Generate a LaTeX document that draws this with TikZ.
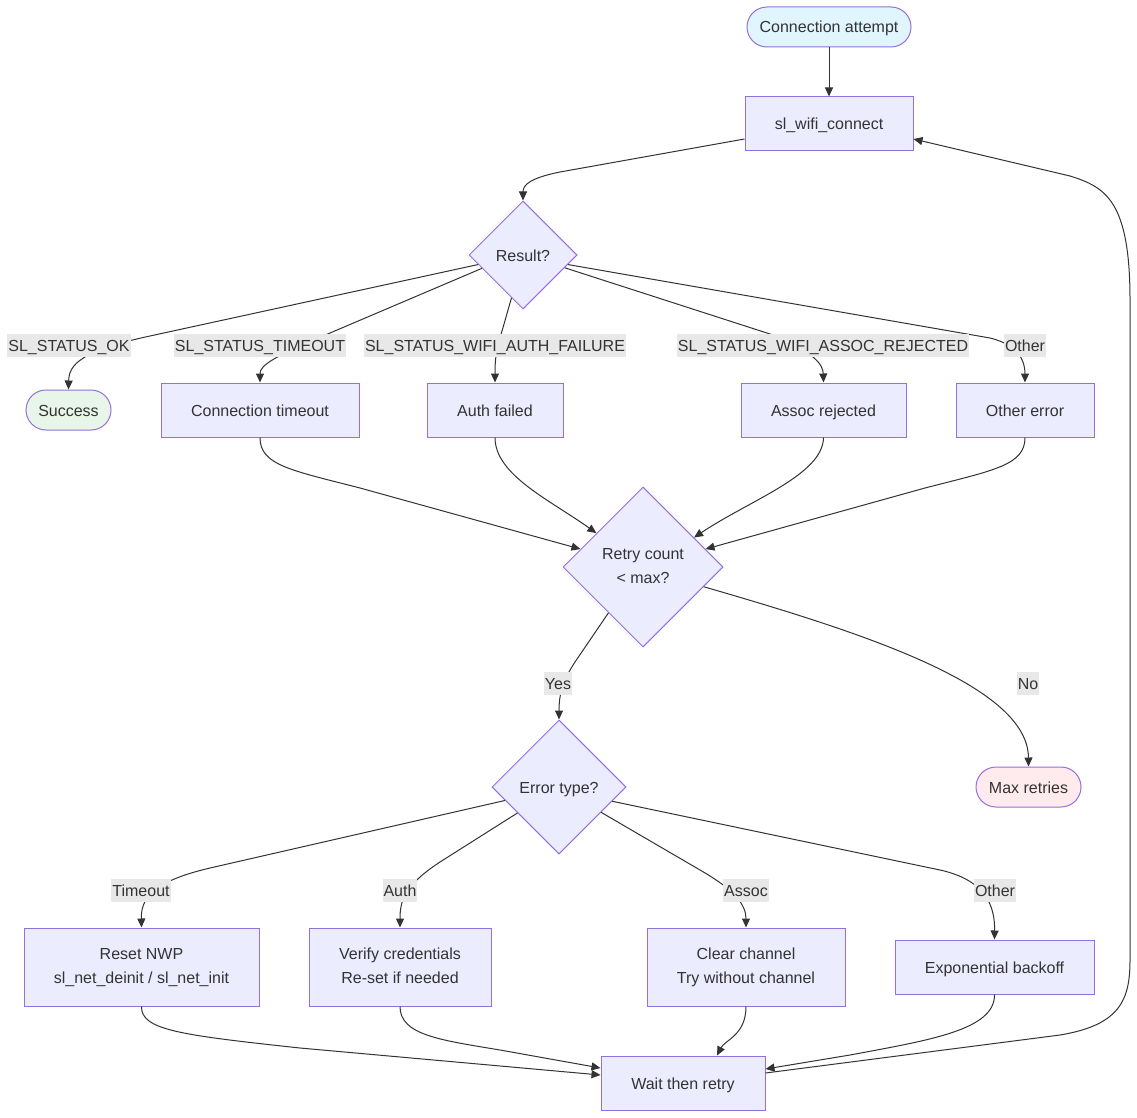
\documentclass[tikz,border=0pt]{standalone}
\usepackage{fontspec}
\setmainfont{Liberation Sans}
\usetikzlibrary{shapes.geometric,arrows.meta}
\definecolor{nodefill}{HTML}{ECECFF}
\definecolor{nodestroke}{HTML}{9370DB}
\definecolor{startfill}{HTML}{E1F5FE}
\definecolor{okfill}{HTML}{E8F5E9}
\definecolor{errfill}{HTML}{FFEBEE}
\definecolor{labelbg}{HTML}{E8E8E8}
\definecolor{textc}{HTML}{333333}
\definecolor{edgec}{HTML}{333333}
\tikzset{
  base/.style={draw=nodestroke, line width=1pt, fill=nodefill, text=textc, font=\fontsize{16}{24}\selectfont, inner sep=0pt},
  one/.style={text height=12pt, text depth=0pt},
  box/.style={base, rectangle},
  pill/.style={base, one, rectangle, rounded corners=20pt, minimum height=40pt},
  dia/.style={base, diamond, aspect=1},
  lbl/.style={fill=labelbg, text=textc, font=\fontsize{16}{19}\selectfont, inner xsep=1pt, inner ysep=5.5pt, text height=12pt, text depth=0pt},
  edge/.style={draw=edgec, line width=1pt, -{Triangle[length=9pt,width=8pt]}}
}
\newcommand{\twolines}[2]{\begin{tabular}{@{}c@{}}#1\\#2\end{tabular}}
\begin{document}
\begin{tikzpicture}[x=1pt,y=-1pt]
\useasboundingbox[fill=white] (0,0) rectangle (1137,1118);
% nodes
\node[pill, fill=startfill, minimum width=164pt] (ca) at (829,27) {Connection attempt};
\node[box, one, minimum width=168pt, minimum height=54pt] (wifi) at (829,124) {sl\_wifi\_connect};
\node[dia, one, minimum width=108pt, minimum height=108pt] (res) at (523,255) {Result?};
\node[pill, fill=okfill, minimum width=85pt] (succ) at (68.5,410) {Success};
\node[box, one, minimum width=198pt, minimum height=54pt] (ct) at (260,410) {Connection timeout};
\node[box, one, minimum width=136pt, minimum height=54pt] (af) at (495,410) {Auth failed};
\node[box, one, minimum width=165pt, minimum height=54pt] (ar) at (823.5,410) {Assoc rejected};
\node[box, one, minimum width=138pt, minimum height=54pt] (oe) at (1025,410) {Other error};
\node[dia, minimum width=160pt, minimum height=160pt] (retry) at (643,567) {\twolines{Retry count}{< max?}};
\node[dia, one, minimum width=134pt, minimum height=134pt] (err) at (559,787) {Error type?};
\node[pill, fill=errfill, minimum width=105pt] (mr) at (1028.5,787) {Max retries};
\node[box, minimum width=235pt, minimum height=78pt] (rn) at (141.5,967) {\twolines{Reset NWP}{sl\_net\_deinit / sl\_net\_init}};
\node[box, minimum width=182pt, minimum height=78pt] (vc) at (400,967) {\twolines{Verify credentials}{Re-set if needed}};
\node[box, minimum width=198pt, minimum height=78pt] (cc) at (746,967) {\twolines{Clear channel}{Try without channel}};
\node[box, one, minimum width=199pt, minimum height=54pt] (eb) at (994.5,967) {Exponential backoff};
\node[box, one, minimum width=164pt, minimum height=54pt] (wait) at (683,1083) {Wait then retry};
% edges
\draw[edge] (ca.south) -- (wifi.north);
\draw[edge] ([yshift=-15pt]wifi.west) -- (560,172) .. controls (530,178) and (523,185) .. (res.north);
\draw[edge] (res.192) -- (150,336) .. controls (80,351) and (69,365) .. (succ.north);
\draw[edge] (res.198) -- (330,333) .. controls (275,356) and (260,365) .. (ct.north);
\draw[edge] (res.255) -- (500,338) .. controls (496,352) and (495,360) .. (af.north);
\draw[edge] (res.343) -- (770,334) .. controls (815,352) and (823,365) .. (ar.north);
\draw[edge] (res.348) -- (990,338) .. controls (1018,345) and (1025,360) .. (oe.north);
\draw[edge] (ct.south) .. controls (260,465) and (290,470) .. (360,488) -- (retry.164);
\draw[edge] (af.south) .. controls (495,475) and (550,500) .. (retry.144);
\draw[edge] (ar.south) .. controls (823,475) and (750,500) .. (retry.30);
\draw[edge] (oe.south) .. controls (1025,465) and (995,470) .. (925,488) -- (retry.16);
\draw[edge] (retry.233) -- (575,662) .. controls (562,682) and (559,695) .. (err.north);
\draw[edge] (retry.342) .. controls (860,632) and (1028,685) .. (mr.north);
\draw[edge] (err.194) -- (210,868) .. controls (150,882) and (141,900) .. (rn.north);
\draw[edge] (err.212) -- (440,862) .. controls (405,885) and (400,900) .. (vc.north);
\draw[edge] (err.329) -- (700,870) .. controls (735,890) and (746,905) .. (cc.north);
\draw[edge] (err.345) -- (940,870) .. controls (985,880) and (995,905) .. (eb.north);
\draw[edge] (rn.south) .. controls (141,1030) and (180,1035) .. (300,1048) -- ([yshift=8pt]wait.west);
\draw[edge] (vc.south) .. controls (400,1035) and (440,1040) .. (500,1050) -- ([yshift=15pt]wait.west);
\draw[edge] (cc.south) .. controls (746,1035) and (725,1040) .. ([xshift=34pt]wait.north);
\draw[edge] (eb.south) .. controls (995,1030) and (930,1040) .. (850,1055) -- ([yshift=14pt]wait.east);
\draw[edge] ([yshift=10pt]wait.east) -- (1060,1035) .. controls (1120,1025) and (1130,1000) .. (1130,960) -- (1130,300) .. controls (1130,200) and (1105,187) .. (1070,176) -- ([yshift=-15pt]wifi.east);
% labels
\node[lbl] (l1) at (69,345) {SL\_STATUS\_OK};
\node[lbl] (l2) at (260,345) {SL\_STATUS\_TIMEOUT};
\node[lbl] (l3) at (495,345) {SL\_STATUS\_WIFI\_AUTH\_FAILURE};
\node[lbl] (l4) at (823,345) {SL\_STATUS\_WIFI\_ASSOC\_REJECTED};
\node[lbl] (l5) at (1025,345) {Other};
\node[lbl] (l6) at (558,683) {Yes};
\node[lbl] (l7) at (1028,683) {No};
\node[lbl] (l8) at (141,890) {Timeout};
\node[lbl] (l9) at (400,890) {Auth};
\node[lbl] (l10) at (746,890) {Assoc};
\node[lbl] (l11) at (995,890) {Other};
\end{tikzpicture}
\end{document}
